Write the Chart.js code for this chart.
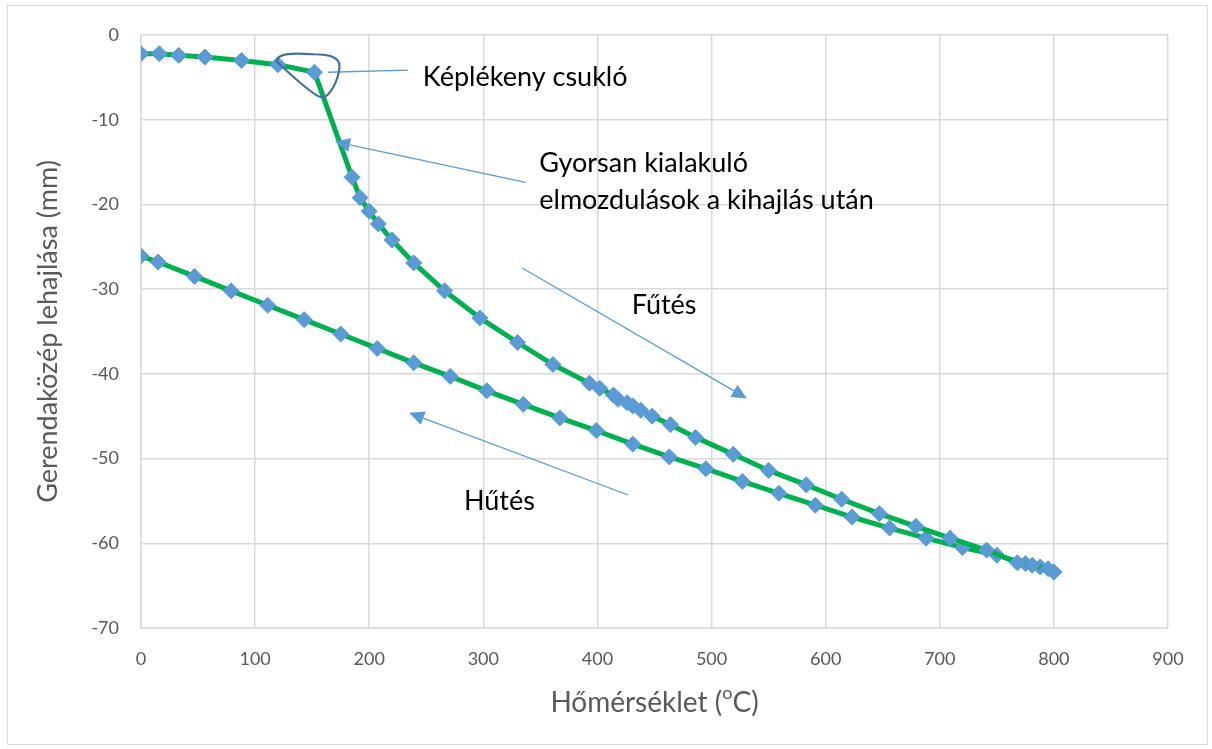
<!DOCTYPE html>
<html lang="hu">
<head>
<meta charset="utf-8">
<title>Gerendaközép lehajlása</title>
<script src="https://cdn.jsdelivr.net/npm/chart.js@4.4.1/dist/chart.umd.min.js"></script>
<style>
  html, body { margin: 0; padding: 0; background: #fff; }
  canvas { display: block; }
</style>
</head>
<body>
<canvas id="grafikon" width="1212" height="749"></canvas>
<script>
// Fűtés ága: hőmérséklet (°C) és a gerendaközép lehajlása (mm)
const futesT = [0, 16, 33, 56, 88, 120, 152, 185, 192, 200, 208, 220, 239, 266, 297, 330, 361,
  393, 402, 414, 418, 426, 431, 438, 448, 464, 486, 519, 550, 583, 614, 647, 679, 709, 741, 768, 781, 795, 800];
const futesD = [-2.2, -2.2, -2.4, -2.6, -3.0, -3.5, -4.4, -16.8, -19.2, -20.8, -22.3, -24.2, -26.9, -30.2, -33.4, -36.3, -38.9,
  -41.1, -41.7, -42.5, -43.0, -43.4, -43.8, -44.3, -45.0, -46.0, -47.5, -49.5, -51.4, -53.1, -54.8, -56.5, -58.0, -59.4, -60.8, -62.3, -62.6, -63.0, -63.4];

// Hűtés ága
const hutesT = [0, 15, 47, 79, 111, 143, 175, 207, 239, 271, 303, 335, 367, 399, 431, 463, 495, 527, 559, 591,
  623, 656, 688, 720, 750, 775, 788, 800];
const hutesD = [-26.1, -26.8, -28.5, -30.2, -31.9, -33.6, -35.3, -37.0, -38.7, -40.3, -42.0, -43.6, -45.2, -46.7, -48.3, -49.8, -51.2, -52.7, -54.1, -55.5,
  -56.9, -58.2, -59.4, -60.5, -61.4, -62.4, -62.8, -63.4];

const xTicks = [0, 100, 200, 300, 400, 500, 600, 700, 800, 900];
const yTicks = [0, -10, -20, -30, -40, -50, -60, -70];

// Szöveges megjegyzések (bal szél, függőleges közép) adatkoordinátában
const feliratok = [
  { szoveg: 'Képlékeny csukló', x: 247, y: -4.95 },
  { szoveg: 'Gyorsan kialakuló', x: 349, y: -15.1 },
  { szoveg: 'elmozdulások a kihajlás után', x: 349, y: -19.5 },
  { szoveg: 'Fűtés', x: 430, y: -31.9 },
  { szoveg: 'Hűtés', x: 283, y: -55.1 }
];

// Mutatóvonalak, nyílhegy a második végponton
const nyilak = [
  { x1: 164, y1: -4.4, x2: 234, y2: -4.15, hegy: false },
  { x1: 337, y1: -17.4, x2: 170, y2: -12.6, hegy: true },
  { x1: 334, y1: -27.5, x2: 531, y2: -42.9, hegy: true },
  { x1: 427, y1: -54.3, x2: 235, y2: -44.6, hegy: true }
];

// a képlékeny csukló körüli hurok középpontja
const csuklo = { x: 152, y: -4.4 };

const betu = 'Lato, "Open Sans", sans-serif';

const jegyzetek = {
  id: 'jegyzetek',
  beforeDraw(chart) {
    const ctx = chart.ctx;
    ctx.save();
    ctx.fillStyle = '#fff';
    ctx.fillRect(0, 0, chart.width, chart.height);
    ctx.strokeStyle = '#D9D9D9';
    ctx.lineWidth = 1;
    ctx.strokeRect(7.5, 5.5, 1200, 739);
    ctx.restore();
  },
  afterDatasetsDraw(chart) {
    const { ctx, scales: { x, y }, chartArea } = chart;
    ctx.save();

    // nyilak
    ctx.strokeStyle = '#5B9BD5';
    ctx.fillStyle = '#5B9BD5';
    ctx.lineWidth = 1.3;
    nyilak.forEach(n => {
      const ax = x.getPixelForValue(n.x1), ay = y.getPixelForValue(n.y1);
      const bx = x.getPixelForValue(n.x2), by = y.getPixelForValue(n.y2);
      const szog = Math.atan2(by - ay, bx - ax);
      const hossz = 15, fel = 7;
      const vx = n.hegy ? bx - Math.cos(szog) * hossz : bx;
      const vy = n.hegy ? by - Math.sin(szog) * hossz : by;
      ctx.beginPath();
      ctx.moveTo(ax, ay);
      ctx.lineTo(vx, vy);
      ctx.stroke();
      if (n.hegy) {
        ctx.beginPath();
        ctx.moveTo(bx, by);
        ctx.lineTo(vx - Math.sin(szog) * fel, vy + Math.cos(szog) * fel);
        ctx.lineTo(vx + Math.sin(szog) * fel, vy - Math.cos(szog) * fel);
        ctx.closePath();
        ctx.fill();
      }
    });

    // hurok a csukló körül
    const cx = x.getPixelForValue(csuklo.x), cy = y.getPixelForValue(csuklo.y);
    ctx.strokeStyle = '#41719C';
    ctx.lineWidth = 2.2;
    ctx.beginPath();
    ctx.moveTo(cx - 38, cy - 11);
    ctx.bezierCurveTo(cx - 37, cy - 20, cx - 20, cy - 19, cx, cy - 18);
    ctx.bezierCurveTo(cx + 15, cy - 18, cx + 26, cy - 15, cx + 25, cy - 5);
    ctx.bezierCurveTo(cx + 24, cy + 8, cx + 15, cy + 26, cx + 7, cy + 25);
    ctx.bezierCurveTo(cx, cy + 24, cx - 20, cy + 6, cx - 38, cy - 11);
    ctx.closePath();
    ctx.stroke();

    // feliratok
    ctx.fillStyle = '#000';
    ctx.font = '27px ' + betu;
    ctx.textAlign = 'left';
    ctx.textBaseline = 'middle';
    feliratok.forEach(f => {
      ctx.fillText(f.szoveg, x.getPixelForValue(f.x), y.getPixelForValue(f.y));
    });

    // x tengely címe, felső indexes o-val
    const nagy = '28px ' + betu, kicsi = '18px ' + betu;
    const r1 = 'Hőmérséklet (', r2 = 'o', r3 = 'C)';
    ctx.font = nagy;
    const w1 = ctx.measureText(r1).width, w3 = ctx.measureText(r3).width;
    ctx.font = kicsi;
    const w2 = ctx.measureText(r2).width;
    let px = (chartArea.left + chartArea.right) / 2 - (w1 + w2 + w3) / 2;
    const py = 703;
    ctx.fillStyle = '#595959';
    ctx.textBaseline = 'middle';
    ctx.font = nagy;
    ctx.fillText(r1, px, py);
    px += w1;
    ctx.font = kicsi;
    ctx.fillText(r2, px, py - 10);
    px += w2;
    ctx.font = nagy;
    ctx.fillText(r3, px, py);
    ctx.restore();
  }
};

function sorozat(tx, dy) {
  return {
    data: tx.map((t, i) => ({ x: t, y: dy[i] })),
    showLine: true,
    borderColor: '#00B050',
    borderWidth: 5,
    tension: 0,
    pointStyle: 'rectRot',
    pointRadius: 8,
    pointBackgroundColor: '#5B9BD5',
    pointBorderColor: '#5B9BD5',
    pointBorderWidth: 1
  };
}

const ctx = document.getElementById('grafikon').getContext('2d');
new Chart(ctx, {
  type: 'scatter',
  data: {
    datasets: [sorozat(futesT, futesD), sorozat(hutesT, hutesD)]
  },
  options: {
    responsive: false,
    animation: false,
    layout: { padding: { top: 35, right: 44, bottom: 0, left: 0 } },
    plugins: {
      legend: { display: false },
      tooltip: { enabled: false }
    },
    scales: {
      x: {
        type: 'linear',
        min: 0,
        max: 900,
        afterBuildTicks: s => { s.ticks = xTicks.map(v => ({ value: v })); },
        afterFit: s => { s.height = 121; },
        grid: { color: '#D9D9D9', lineWidth: 1.5, drawTicks: false },
        border: { color: '#D9D9D9', width: 1.5 },
        ticks: { color: '#595959', font: { family: betu, size: 18 }, padding: 20, maxRotation: 0 }
      },
      y: {
        type: 'linear',
        min: -70,
        max: 0,
        afterBuildTicks: s => { s.ticks = yTicks.map(v => ({ value: v })); },
        afterFit: s => { s.width = 141; },
        grid: { color: '#D9D9D9', lineWidth: 1.5, drawTicks: false },
        border: { color: '#D9D9D9', width: 1.5 },
        ticks: { color: '#595959', font: { family: betu, size: 18 }, padding: 22 },
        title: {
          display: true,
          text: 'Gerendaközép lehajlása (mm)',
          color: '#595959',
          font: { family: betu, size: 27 },
          padding: { top: 32, bottom: 0 }
        }
      }
    }
  },
  plugins: [jegyzetek]
});
</script>
</body>
</html>
